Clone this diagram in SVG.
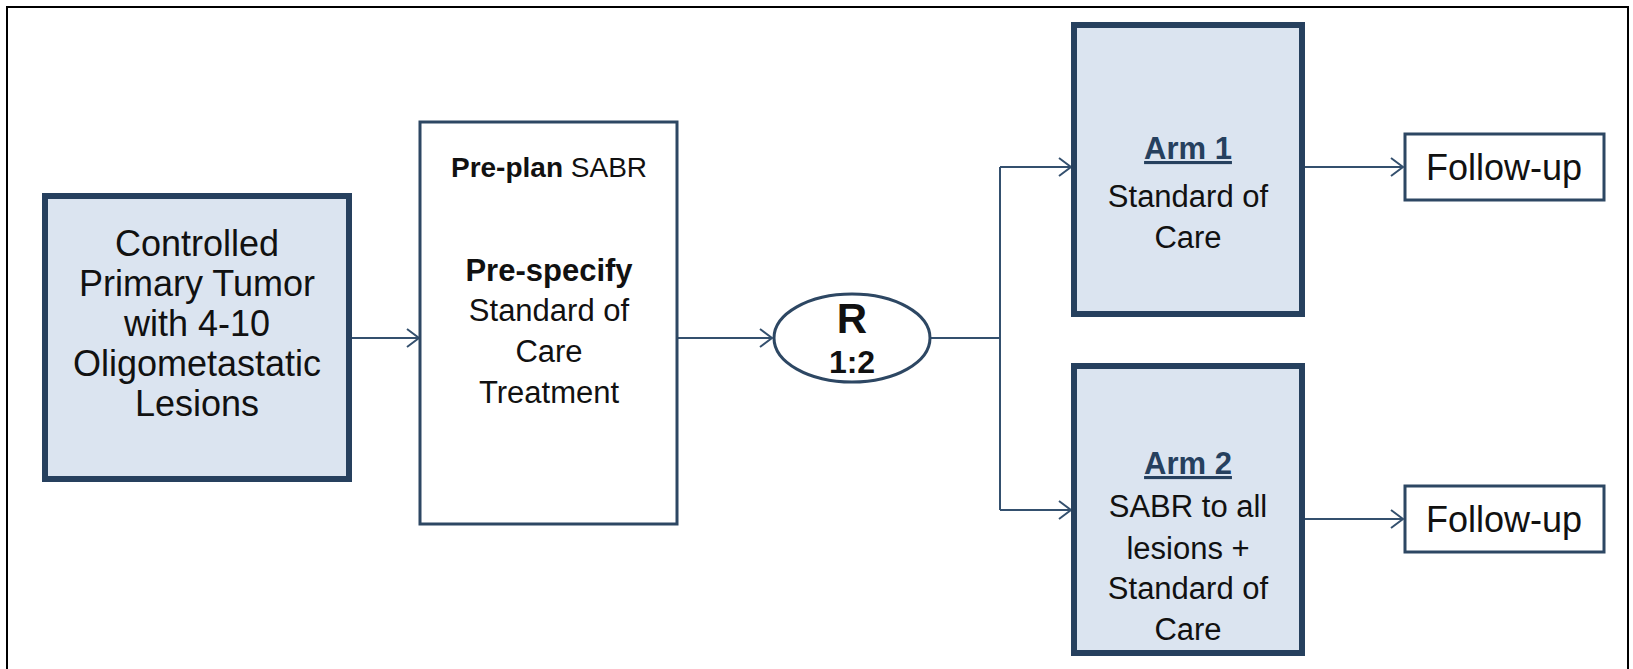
<svg xmlns="http://www.w3.org/2000/svg" width="1633" height="669" viewBox="0 0 1633 669">
<defs>
<style>
.frame{fill:#fff;stroke:#000;stroke-width:2}
.thick{fill:#dbe4f0;stroke:#26405e;stroke-width:6}
.thin{fill:#fff;stroke:#2d4763;stroke-width:3}
.conn{fill:none;stroke:#34506e;stroke-width:2}
text{font-family:"Liberation Sans",Arial,sans-serif;font-size:31px;fill:#111;text-anchor:middle}
.big{font-size:36px}
.b{font-weight:bold}
.arm{font-weight:bold;fill:#26405e;text-decoration:underline}
</style>
<marker id="ah" markerWidth="16" markerHeight="20" refX="14" refY="10" orient="auto" markerUnits="userSpaceOnUse">
<path d="M2,1 L14,10 L2,19" fill="none" stroke="#34506e" stroke-width="2"/>
</marker>
</defs>
<rect x="0" y="0" width="1633" height="669" fill="#fff"/>
<rect class="frame" x="7" y="7" width="1621" height="672"/>
<g id="connectors">
<line class="conn" x1="352" y1="338" x2="419" y2="338" marker-end="url(#ah)"/>
<line class="conn" x1="678" y1="338" x2="772" y2="338" marker-end="url(#ah)"/>
<polyline class="conn" points="930,338 1000,338"/>
<polyline class="conn" points="1000,167 1000,510"/>
<line class="conn" x1="1000" y1="167" x2="1071" y2="167" marker-end="url(#ah)"/>
<line class="conn" x1="1000" y1="510" x2="1071" y2="510" marker-end="url(#ah)"/>
<line class="conn" x1="1305" y1="167" x2="1403" y2="167" marker-end="url(#ah)"/>
<line class="conn" x1="1305" y1="519" x2="1403" y2="519" marker-end="url(#ah)"/>
</g>
<g id="n-primary">
<rect class="thick" x="45" y="196" width="304" height="283"/>
<text class="big" x="197" y="256">Controlled</text>
<text class="big" x="197" y="296">Primary Tumor</text>
<text class="big" x="197" y="336">with 4-10</text>
<text class="big" x="197" y="376">Oligometastatic</text>
<text class="big" x="197" y="416">Lesions</text>
</g>
<g id="n-preplan">
<rect class="thin" x="420" y="122" width="257" height="402"/>
<text x="549" y="177" style="font-size:28px"><tspan class="b">Pre-plan</tspan> SABR</text>
<text x="549" y="281" class="b">Pre-specify</text>
<text x="549" y="321">Standard of</text>
<text x="549" y="362">Care</text>
<text x="549" y="403">Treatment</text>
</g>
<g id="n-random">
<ellipse class="thin" cx="852" cy="338" rx="78" ry="44"/>
<text x="852" y="333" class="b" style="font-size:42px">R</text>
<text x="852" y="373" class="b" style="font-size:32px">1:2</text>
</g>
<g id="n-arm1">
<rect class="thick" x="1074" y="25" width="228" height="289"/>
<text x="1188" y="159" class="arm">Arm 1</text>
<text x="1188" y="207">Standard of</text>
<text x="1188" y="248">Care</text>
</g>
<g id="n-arm2">
<rect class="thick" x="1074" y="366" width="228" height="287"/>
<text x="1188" y="474" class="arm">Arm 2</text>
<text x="1188" y="517">SABR to all</text>
<text x="1188" y="559">lesions +</text>
<text x="1188" y="599">Standard of</text>
<text x="1188" y="640">Care</text>
</g>
<g id="n-fu1">
<rect class="thin" x="1405" y="134" width="199" height="66"/>
<text class="big" x="1504" y="180">Follow-up</text>
</g>
<g id="n-fu2">
<rect class="thin" x="1405" y="486" width="199" height="66"/>
<text class="big" x="1504" y="532">Follow-up</text>
</g>
</svg>
